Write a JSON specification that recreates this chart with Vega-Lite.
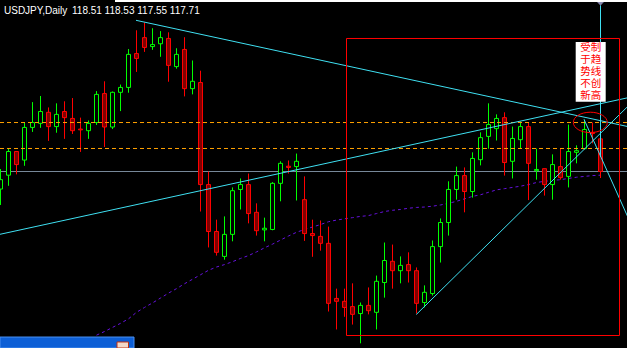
{
  "$schema": "https://vega.github.io/schema/vega-lite/v6.json",
  "width": 627,
  "height": 348,
  "autosize": {"type": "none"},
  "padding": 0,
  "background": "#000000",
  "config": {"view": {"stroke": null}, "scale": {"continuousPadding": 0}},
  "datasets": {
    "candles": [
      {"k":0,"o":117.28,"h":117.77,"l":116.89,"c":117.51},
      {"k":1,"o":117.62,"h":118.27,"l":117.36,"c":118.20},
      {"k":2,"o":118.20,"h":118.20,"l":117.64,"c":117.88},
      {"k":3,"o":117.99,"h":118.90,"l":117.85,"c":118.79},
      {"k":4,"o":118.79,"h":119.41,"l":118.68,"c":118.91},
      {"k":5,"o":118.89,"h":119.56,"l":118.78,"c":119.18},
      {"k":6,"o":119.16,"h":119.28,"l":118.46,"c":118.81},
      {"k":7,"o":118.81,"h":119.38,"l":118.66,"c":119.11},
      {"k":8,"o":119.18,"h":119.43,"l":118.51,"c":119.03},
      {"k":9,"o":119.01,"h":119.51,"l":118.63,"c":118.71},
      {"k":10,"o":118.75,"h":119.03,"l":118.19,"c":118.73},
      {"k":11,"o":118.71,"h":118.96,"l":118.51,"c":118.89},
      {"k":12,"o":118.91,"h":119.68,"l":118.85,"c":119.60},
      {"k":13,"o":119.62,"h":119.92,"l":118.31,"c":118.80},
      {"k":14,"o":118.80,"h":119.67,"l":118.75,"c":119.65},
      {"k":15,"o":119.65,"h":119.84,"l":119.19,"c":119.77},
      {"k":16,"o":119.77,"h":120.71,"l":119.64,"c":120.58},
      {"k":17,"o":120.60,"h":121.17,"l":120.15,"c":120.48},
      {"k":18,"o":120.99,"h":121.36,"l":120.64,"c":120.75},
      {"k":19,"o":120.77,"h":121.22,"l":120.69,"c":120.82},
      {"k":20,"o":120.84,"h":121.15,"l":120.52,"c":120.99},
      {"k":21,"o":120.97,"h":121.12,"l":119.91,"c":120.31},
      {"k":22,"o":120.28,"h":120.73,"l":120.23,"c":120.58},
      {"k":23,"o":120.70,"h":121.00,"l":119.55,"c":119.74},
      {"k":24,"o":119.74,"h":120.43,"l":119.60,"c":119.92},
      {"k":25,"o":119.89,"h":120.18,"l":116.73,"c":117.39},
      {"k":26,"o":117.39,"h":117.71,"l":115.85,"c":116.24},
      {"k":27,"o":116.24,"h":116.53,"l":115.65,"c":115.73},
      {"k":28,"o":115.63,"h":116.61,"l":115.55,"c":116.17},
      {"k":29,"o":116.17,"h":117.32,"l":116.00,"c":117.24},
      {"k":30,"o":117.27,"h":117.54,"l":116.78,"c":117.39},
      {"k":31,"o":117.39,"h":117.66,"l":116.44,"c":116.68},
      {"k":32,"o":116.71,"h":116.93,"l":116.14,"c":116.26},
      {"k":33,"o":116.28,"h":116.58,"l":116.00,"c":116.32},
      {"k":34,"o":116.29,"h":117.45,"l":116.27,"c":117.42},
      {"k":35,"o":117.42,"h":117.96,"l":116.98,"c":117.91},
      {"k":36,"o":117.84,"h":117.98,"l":117.66,"c":117.81},
      {"k":37,"o":117.83,"h":118.15,"l":117.00,"c":117.96},
      {"k":38,"o":117.02,"h":117.59,"l":116.01,"c":116.19},
      {"k":39,"o":116.19,"h":116.53,"l":115.62,"c":116.14},
      {"k":40,"o":116.12,"h":116.51,"l":115.77,"c":115.95},
      {"k":41,"o":115.95,"h":116.36,"l":114.28,"c":114.48},
      {"k":42,"o":114.60,"h":114.84,"l":113.84,"c":114.53},
      {"k":43,"o":114.53,"h":114.84,"l":114.15,"c":114.38},
      {"k":44,"o":114.40,"h":114.97,"l":113.96,"c":114.21},
      {"k":45,"o":114.23,"h":114.50,"l":113.50,"c":114.43},
      {"k":46,"o":114.43,"h":114.87,"l":114.21,"c":114.30},
      {"k":47,"o":114.26,"h":115.16,"l":113.84,"c":115.02},
      {"k":48,"o":114.99,"h":115.97,"l":114.62,"c":115.53},
      {"k":49,"o":115.51,"h":115.92,"l":114.84,"c":115.28},
      {"k":50,"o":115.28,"h":115.63,"l":114.97,"c":115.41},
      {"k":51,"o":115.43,"h":115.73,"l":114.99,"c":115.28},
      {"k":52,"o":115.28,"h":115.36,"l":114.23,"c":114.48},
      {"k":53,"o":114.50,"h":114.92,"l":114.38,"c":114.75},
      {"k":54,"o":114.72,"h":116.02,"l":114.67,"c":115.87},
      {"k":55,"o":115.87,"h":116.56,"l":115.48,"c":116.46},
      {"k":56,"o":116.46,"h":117.47,"l":116.14,"c":117.27},
      {"k":57,"o":117.27,"h":117.83,"l":117.02,"c":117.61},
      {"k":58,"o":117.61,"h":117.81,"l":116.71,"c":117.22},
      {"k":59,"o":117.22,"h":118.18,"l":117.07,"c":118.03},
      {"k":60,"o":118.00,"h":118.67,"l":117.86,"c":118.54},
      {"k":61,"o":118.57,"h":119.38,"l":118.27,"c":118.86},
      {"k":62,"o":118.76,"h":119.11,"l":118.47,"c":119.01},
      {"k":63,"o":119.03,"h":119.16,"l":117.61,"c":117.93},
      {"k":64,"o":117.96,"h":118.81,"l":117.54,"c":118.52},
      {"k":65,"o":118.49,"h":118.94,"l":118.27,"c":118.81},
      {"k":66,"o":118.81,"h":118.91,"l":117.01,"c":117.91},
      {"k":67,"o":117.73,"h":118.27,"l":117.51,"c":117.76},
      {"k":68,"o":117.78,"h":117.78,"l":117.12,"c":117.39},
      {"k":69,"o":117.39,"h":118.13,"l":117.02,"c":117.88},
      {"k":70,"o":117.83,"h":118.27,"l":117.51,"c":117.56},
      {"k":71,"o":117.59,"h":118.86,"l":117.32,"c":118.20},
      {"k":72,"o":118.18,"h":118.35,"l":117.91,"c":118.22},
      {"k":73,"o":118.27,"h":118.98,"l":118.25,"c":118.74},
      {"k":74,"o":118.67,"h":118.91,"l":118.40,"c":118.64},
      {"k":75,"o":118.51,"h":118.53,"l":117.55,"c":117.71}
    ],
    "ma": [
      {"k":12,"p":113.70},{"k":13,"p":113.79},{"k":14,"p":113.89},{"k":15,"p":113.99},
      {"k":16,"p":114.10},{"k":17,"p":114.26},{"k":18,"p":114.38},{"k":19,"p":114.49},
      {"k":20,"p":114.61},{"k":21,"p":114.73},{"k":22,"p":114.84},{"k":23,"p":114.96},
      {"k":24,"p":115.07},{"k":25,"p":115.18},{"k":26,"p":115.29},{"k":27,"p":115.37},
      {"k":28,"p":115.43},{"k":29,"p":115.50},{"k":30,"p":115.58},{"k":31,"p":115.65},
      {"k":32,"p":115.74},{"k":33,"p":115.84},{"k":34,"p":115.93},{"k":35,"p":116.03},
      {"k":36,"p":116.13},{"k":37,"p":116.22},{"k":38,"p":116.29},{"k":39,"p":116.35},
      {"k":40,"p":116.41},{"k":41,"p":116.48},{"k":42,"p":116.52},{"k":43,"p":116.55},
      {"k":44,"p":116.58},{"k":45,"p":116.61},{"k":46,"p":116.63},{"k":47,"p":116.68},
      {"k":48,"p":116.73},{"k":49,"p":116.76},{"k":50,"p":116.78},{"k":51,"p":116.81},
      {"k":52,"p":116.83},{"k":53,"p":116.84},{"k":54,"p":116.86},{"k":55,"p":116.89},
      {"k":56,"p":116.93},{"k":57,"p":116.98},{"k":58,"p":117.04},{"k":59,"p":117.10},
      {"k":60,"p":117.14},{"k":61,"p":117.20},{"k":62,"p":117.26},{"k":63,"p":117.29},
      {"k":64,"p":117.32},{"k":65,"p":117.35},{"k":66,"p":117.39},{"k":67,"p":117.44},
      {"k":68,"p":117.47},{"k":69,"p":117.49},{"k":70,"p":117.51},{"k":71,"p":117.54},
      {"k":72,"p":117.57},{"k":73,"p":117.59},{"k":74,"p":117.61},{"k":75,"p":117.62}
    ],
    "trend": [
      {"id":"a","k":16.9375,"p":121.4145},{"id":"a","k":79.94,"p":118.746},
      {"id":"b","k":-0.0625,"p":116.1715},{"id":"b","k":79.9375,"p":119.582},
      {"id":"c","k":51.975,"p":114.207},{"id":"c","k":79.9375,"p":119.599},
      {"id":"e","k":72.9375,"p":118.989},{"id":"e","k":79.9375,"p":115.929}
    ],
    "hlines": [
      {"id":"o1","p":118.91},
      {"id":"o2","p":118.274}
    ]
  },
  "layer": [
    {
      "data": {"values": [{"p": 117.71}]},
      "mark": {"type": "rule", "color": "#778899", "strokeWidth": 1},
      "encoding": {
        "y": {"field": "p", "type": "quantitative", "scale": {"domain": [113.3859, 121.9119], "nice": false, "zero": false}, "axis": null}
      }
    },
    {
      "data": {"name": "ma"},
      "mark": {"type": "line", "color": "#6611dd", "strokeWidth": 1, "strokeDash": [3, 3], "clip": true},
      "encoding": {
        "x": {"field": "k", "type": "quantitative", "scale": {"domain": [-0.0625, 78.3125], "nice": false, "zero": false, "padding": 0}, "axis": null},
        "y": {"field": "p", "type": "quantitative", "scale": {"domain": [113.3859, 121.9119], "nice": false, "zero": false}, "axis": null}
      }
    },
    {
      "data": {"name": "candles"},
      "mark": {"type": "rule", "strokeWidth": 1},
      "encoding": {
        "x": {"field": "k", "type": "quantitative", "scale": {"domain": [-0.0625, 78.3125], "nice": false, "zero": false, "padding": 0}, "axis": null},
        "y": {"field": "l", "type": "quantitative", "scale": {"domain": [113.3859, 121.9119], "nice": false, "zero": false}, "axis": null},
        "y2": {"field": "h"},
        "stroke": {"condition": {"test": "datum.c >= datum.o", "value": "#00ff00"}, "value": "#ff0000"}
      }
    },
    {
      "data": {"name": "candles"},
      "mark": {"type": "bar", "width": 4, "strokeWidth": 1, "orient": "vertical"},
      "encoding": {
        "x": {"field": "k", "type": "quantitative", "scale": {"domain": [-0.0625, 78.3125], "nice": false, "zero": false, "padding": 0}, "axis": null},
        "y": {"field": "o", "type": "quantitative", "scale": {"domain": [113.3859, 121.9119], "nice": false, "zero": false}, "axis": null},
        "y2": {"field": "c"},
        "stroke": {"condition": {"test": "datum.c >= datum.o", "value": "#00ff00"}, "value": "#ff0000"},
        "fill": {"condition": {"test": "datum.c >= datum.o", "value": "#000000"}, "value": "#800000"}
      }
    },
    {
      "data": {"name": "hlines"},
      "mark": {"type": "rule", "color": "#ffa000", "strokeWidth": 1, "strokeDash": [4, 3]},
      "encoding": {
        "y": {"field": "p", "type": "quantitative", "scale": {"domain": [113.3859, 121.9119], "nice": false, "zero": false}, "axis": null}
      }
    },
    {
      "data": {"name": "trend"},
      "mark": {"type": "line", "color": "#3fe0f2", "strokeWidth": 1, "clip": true},
      "encoding": {
        "x": {"field": "k", "type": "quantitative", "scale": {"domain": [-0.0625, 78.3125], "nice": false, "zero": false, "padding": 0}, "axis": null},
        "y": {"field": "p", "type": "quantitative", "scale": {"domain": [113.3859, 121.9119], "nice": false, "zero": false}, "axis": null},
        "detail": {"field": "id"}
      }
    },
    {
      "data": {"values": [{"k": 75, "p1": 121.95, "p2": 118.065}]},
      "mark": {"type": "rule", "color": "#3fe0f2", "strokeWidth": 1, "clip": true},
      "encoding": {
        "x": {"field": "k", "type": "quantitative", "scale": {"domain": [-0.0625, 78.3125], "nice": false, "zero": false, "padding": 0}, "axis": null},
        "y": {"field": "p1", "type": "quantitative", "scale": {"domain": [113.3859, 121.9119], "nice": false, "zero": false}, "axis": null},
        "y2": {"field": "p2"}
      }
    },
    {
      "data": {"values": [{"k1": 43.25, "k2": 77.375, "p1": 120.9687, "p2": 113.692}]},
      "mark": {"type": "rect", "fill": null, "fillOpacity": 0, "stroke": "#ff0000", "strokeWidth": 1},
      "encoding": {
        "x": {"field": "k1", "type": "quantitative", "scale": {"domain": [-0.0625, 78.3125], "nice": false, "zero": false, "padding": 0}, "axis": null},
        "x2": {"field": "k2"},
        "y": {"field": "p1", "type": "quantitative", "scale": {"domain": [113.3859, 121.9119], "nice": false, "zero": false}, "axis": null},
        "y2": {"field": "p2"}
      }
    },
    {
      "data": {"values": [{"k": 73.725, "p": 118.913}]},
      "mark": {"type": "point", "shape": "M-1,0A1,0.6,0,1,1,1,0A1,0.6,0,1,1,-1,0Z", "size": 1156, "filled": false, "stroke": "#ff0000", "strokeWidth": 1, "opacity": 1},
      "encoding": {
        "x": {"field": "k", "type": "quantitative", "scale": {"domain": [-0.0625, 78.3125], "nice": false, "zero": false, "padding": 0}, "axis": null},
        "y": {"field": "p", "type": "quantitative", "scale": {"domain": [113.3859, 121.9119], "nice": false, "zero": false}, "axis": null}
      }
    },
    {
      "data": {"values": [{"k1": 71.9, "k2": 75.65, "p1": 120.883, "p2": 119.42}]},
      "mark": {"type": "rect", "fill": "#ffffff"},
      "encoding": {
        "x": {"field": "k1", "type": "quantitative", "scale": {"domain": [-0.0625, 78.3125], "nice": false, "zero": false, "padding": 0}, "axis": null},
        "x2": {"field": "k2"},
        "y": {"field": "p1", "type": "quantitative", "scale": {"domain": [113.3859, 121.9119], "nice": false, "zero": false}, "axis": null},
        "y2": {"field": "p2"}
      }
    },
    {
      "data": {"values": [
        {"k": 73.775, "p": 120.736, "t": "受制\n于趋\n势线\n不创\n新高"}
      ]},
      "mark": {"type": "text", "font": "Noto Sans CJK SC", "fontSize": 10.5, "lineHeight": 12, "lineBreak": "\n", "color": "#ff0000", "align": "center", "baseline": "middle"},
      "encoding": {
        "x": {"field": "k", "type": "quantitative", "scale": {"domain": [-0.0625, 78.3125], "nice": false, "zero": false, "padding": 0}, "axis": null},
        "y": {"field": "p", "type": "quantitative", "scale": {"domain": [113.3859, 121.9119], "nice": false, "zero": false}, "axis": null},
        "text": {"field": "t"}
      }
    },
    {
      "data": {"values": [{"k": 75, "p": 121.83}]},
      "mark": {"type": "point", "shape": "M-1,-0.55L1,-0.55L0,0.55Z", "size": 64, "filled": true, "fill": "#8a8aae", "stroke": "#55557a", "strokeWidth": 0.5, "opacity": 1},
      "encoding": {
        "x": {"field": "k", "type": "quantitative", "scale": {"domain": [-0.0625, 78.3125], "nice": false, "zero": false, "padding": 0}, "axis": null},
        "y": {"field": "p", "type": "quantitative", "scale": {"domain": [113.3859, 121.9119], "nice": false, "zero": false}, "axis": null}
      }
    },
    {
      "data": {"values": [{"k1": 14.3125, "k2": 78.3125, "p": 121.8874}]},
      "mark": {"type": "rule", "color": "#ffffff", "strokeWidth": 2},
      "encoding": {
        "x": {"field": "k1", "type": "quantitative", "scale": {"domain": [-0.0625, 78.3125], "nice": false, "zero": false, "padding": 0}, "axis": null},
        "x2": {"field": "k2"},
        "y": {"field": "p", "type": "quantitative", "scale": {"domain": [113.3859, 121.9119], "nice": false, "zero": false}, "axis": null}
      }
    },
    {
      "data": {"values": [
        {"k": 0.4375, "p": 121.581, "t": "USDJPY,Daily"},
        {"k": 8.9375, "p": 121.581, "t": "118.51 118.53 117.55 117.71"}
      ]},
      "mark": {"type": "text", "font": "Liberation Sans", "fontSize": 10, "color": "#ffffff", "align": "left", "baseline": "alphabetic"},
      "encoding": {
        "x": {"field": "k", "type": "quantitative", "scale": {"domain": [-0.0625, 78.3125], "nice": false, "zero": false, "padding": 0}, "axis": null},
        "y": {"field": "p", "type": "quantitative", "scale": {"domain": [113.3859, 121.9119], "nice": false, "zero": false}, "axis": null},
        "text": {"field": "t"}
      }
    },
    {
      "data": {"values": [{"k1": -0.0625, "k2": 16.6875, "p1": 113.655, "p2": 113.3859}]},
      "mark": {"type": "rect", "fill": "#0d5fd6", "stroke": "#4a90f0", "strokeWidth": 1},
      "encoding": {
        "x": {"field": "k1", "type": "quantitative", "scale": {"domain": [-0.0625, 78.3125], "nice": false, "zero": false, "padding": 0}, "axis": null},
        "x2": {"field": "k2"},
        "y": {"field": "p1", "type": "quantitative", "scale": {"domain": [113.3859, 121.9119], "nice": false, "zero": false}, "axis": null},
        "y2": {"field": "p2"}
      }
    },
    {
      "data": {"values": [{"k1": 14.5625, "k2": 16.0, "p1": 113.533, "p2": 113.3859}]},
      "mark": {"type": "rect", "fill": "#f2d8c8", "stroke": "#c03010", "strokeWidth": 1},
      "encoding": {
        "x": {"field": "k1", "type": "quantitative", "scale": {"domain": [-0.0625, 78.3125], "nice": false, "zero": false, "padding": 0}, "axis": null},
        "x2": {"field": "k2"},
        "y": {"field": "p1", "type": "quantitative", "scale": {"domain": [113.3859, 121.9119], "nice": false, "zero": false}, "axis": null},
        "y2": {"field": "p2"}
      }
    }
  ]
}
